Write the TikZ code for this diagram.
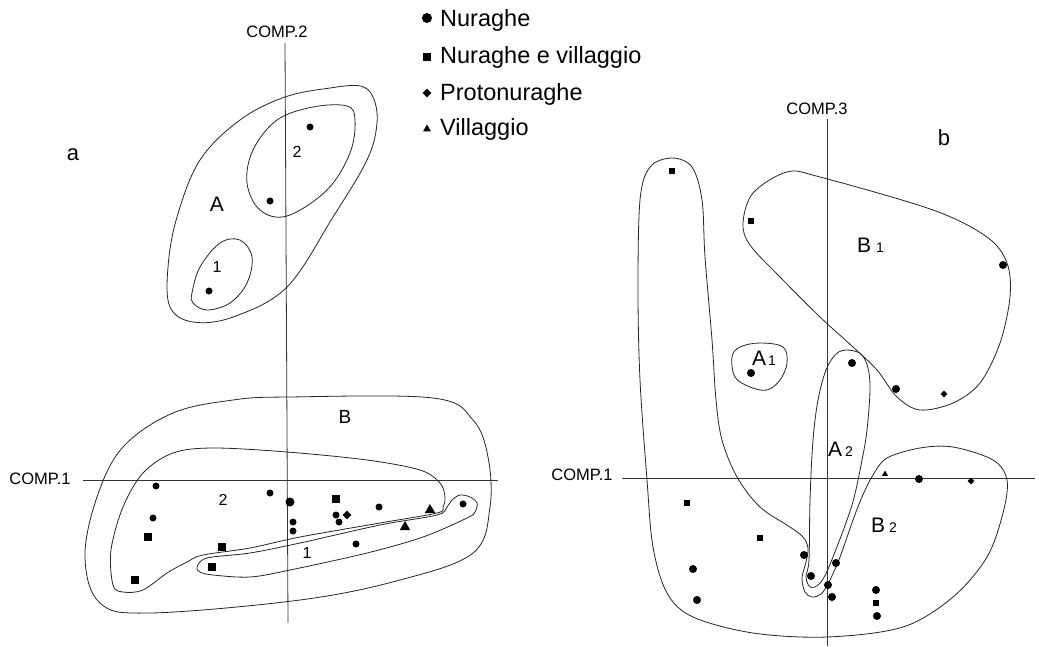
\documentclass[tikz,border=0pt]{standalone}
\usepackage{fontspec}
\setmainfont{Liberation Sans}
\usetikzlibrary{shapes.geometric}
\begin{document}
\begin{tikzpicture}[x=1pt,y=-1pt,
  curve/.style={draw=black!85,line width=0.8pt},
  axis/.style={draw=black!80,line width=0.8pt},
  dotm/.style={circle,fill=black,inner sep=0pt,minimum size=#1},
  dotm/.default=7pt,
  sqm/.style={rectangle,fill=black,inner sep=0pt,minimum size=#1},
  sqm/.default=8.5pt,
  diam/.style={diamond,fill=black,inner sep=0pt,minimum size=#1},
  diam/.default=9pt,
  trim/.style={regular polygon,regular polygon sides=3,fill=black,inner sep=0pt,minimum size=#1},
  trim/.default=12pt,
  num/.style={inner sep=0pt,font=\fontsize{16}{16}\selectfont},
  big/.style={inner sep=0pt,font=\fontsize{21}{21}\selectfont},
  comp/.style={inner sep=0pt,anchor=base,font=\fontsize{16.5}{16.5}\selectfont},
  leg/.style={inner sep=0pt,anchor=base west,font=\fontsize{23.5}{23.5}\selectfont}
]
\fill[white] (0,0) rectangle (1039,646);
\useasboundingbox (0,0) rectangle (1039,646);

% ---------------- legend ----------------
\node[dotm=10pt] (lg1) at (427,18) {};
\node[sqm=7.5pt] (lg2) at (427,57) {};
\node[diam=9pt] (lg3) at (427,93) {};
\node[trim=9pt] (lg4) at (427,129) {};
\node[leg] (lt1) at (440,26) {Nuraghe};
\node[leg] (lt2) at (440,63) {Nuraghe e villaggio};
\node[leg] (lt3) at (440,100) {Protonuraghe};
\node[leg] (lt4) at (440,135) {Villaggio};

% ---------------- panel a ----------------
\node[inner sep=0pt,font=\fontsize{22}{22}\selectfont] (la) at (73,155) {a};
\node[comp] (c2) at (277,37) {COMP.2};
\node[comp] (c1a) at (40,484) {COMP.1};
\coordinate (vat) at (285,43);
\coordinate (vab) at (288,623);
\coordinate (hal) at (83,480);
\coordinate (har) at (498,480);
\draw[axis] (vat) -- (vab);
\draw[axis] (hal) -- (har);

% group A
\draw[curve] plot[smooth cycle,tension=0.6] coordinates {(285,97) (330,88) (360,86) (373,97) (377,123) (367,160) (333,217) (287,287) (233,317) (193,322) (170,307) (168,267) (177,217) (200,160) (240,120)};
\draw[curve] plot[smooth cycle,tension=0.6] coordinates {(247,183) (253,150) (277,120) (313,107) (347,106) (355,120) (350,153) (327,190) (287,216) (260,210)};
\draw[curve] plot[smooth cycle,tension=0.6] coordinates {(192,293) (200,267) (220,243) (240,240) (252,257) (247,283) (230,303) (207,310) (193,303)};
\node[big] (lA) at (217,204) {A};
\node[num] (lA2) at (297,152) {2};
\node[num] (lA1) at (217,267) {1};

% group B
\draw[curve] plot[smooth cycle,tension=0.6] coordinates {(288,397) (433,398) (473,420) (488,457) (490,507) (473,553) (400,580) (300,600) (150,613) (100,603) (85,557) (97,497) (123,447) (173,413) (233,400)};
\draw[curve] plot[smooth cycle,tension=0.55] coordinates {(113,585) (111,550) (123,507) (143,473) (173,453) (213,448) (287,452) (367,460) (420,470) (440,483) (445,497) (443,507) (437,513) (380,523) (300,537) (250,548) (203,555) (187,562) (167,573) (143,590) (123,592)};
\draw[curve] plot[smooth cycle,tension=0.55] coordinates {(197,567) (207,558) (250,553) (300,543) (380,525) (437,515) (447,507) (452,500) (460,495) (470,497) (477,503) (475,512) (467,518) (423,537) (367,553) (290,570) (250,577) (213,575) (200,572)};
\node[big,font=\fontsize{19}{19}\selectfont] (lB) at (345,417) {B};
\node[num] (lB2) at (223,500) {2};
\node[num] (lB1) at (307,553) {1};

% points panel a
\foreach \x/\y [count=\i] in {156/486,270/493,379/507,463/504,153/518,293/522,293/531,336/515,339/522,356/544,310/127,270/201,209/291}
  \node[dotm] (ac\i) at (\x,\y) {};
\node[dotm=9pt] (acb) at (290,502) {};
\foreach \x/\y [count=\i] in {336/499,148/537,222/547,212/567,135/580}
  \node[sqm] (as\i) at (\x,\y) {};
\node[diam] (ad1) at (347,515) {};
\foreach \x/\y [count=\i] in {430/510,405/527}
  \node[trim] (at\i) at (\x,\y) {};

% ---------------- panel b ----------------
\node[inner sep=0pt,font=\fontsize{22}{22}\selectfont] (lb) at (944,138) {b};
\node[comp] (c3) at (817,114) {COMP.3};
\node[comp] (c1b) at (582,480) {COMP.1};
\coordinate (vbt) at (827,119);
\coordinate (vbb) at (827,646);
\coordinate (hbl) at (622,478);
\coordinate (hbr) at (1035,478);
\draw[axis] (vbt) -- (vbb);
\draw[axis] (hbl) -- (hbr);

% big outer curve (finger + B2)
\draw[curve] plot[smooth cycle,tension=0.55] coordinates {(672,158) (692,167) (702,200) (705,257) (712,340) (716,400) (722,440) (737,477) (760,507) (790,527) (803,537) (808,548) (806,562) (802,578) (805,592) (812,597) (821,594) (829,582) (840,557) (853,520) (862,497) (873,475) (887,458) (920,448) (953,447) (993,460) (1007,480) (1003,513) (987,557) (953,597) (903,627) (827,637) (753,633) (693,617) (667,593) (653,547) (647,480) (640,380) (638,290) (640,200) (650,167)};
% A2 loop
\draw[curve] plot[smooth cycle,tension=0.55] coordinates {(847,350) (861,354) (868,368) (870,390) (867,430) (862,460) (852,505) (833,557) (823,579) (815,587) (809,586) (806,576) (809,560) (810,500) (813,440) (818,400) (826,370) (836,354)};
% B1
\draw[curve] plot[smooth cycle,tension=0.55] coordinates {(743,223) (753,193) (787,172) (820,177) (933,210) (987,237) (1007,263) (1010,297) (1000,343) (980,383) (953,403) (920,410) (897,397) (877,370) (853,347) (820,317) (780,277) (750,245)};
% A1
\draw[curve] plot[smooth cycle,tension=0.6] coordinates {(732,357) (740,347) (760,343) (783,347) (787,363) (780,380) (767,390) (750,387) (735,377)};

\node[inner sep=0pt,anchor=base west] (lA1b) at (752,365) {\fontsize{21}{21}\selectfont A\hspace{2pt}\fontsize{14}{14}\selectfont 1};
\node[inner sep=0pt,anchor=base west] (lA2b) at (828,456) {\fontsize{21}{21}\selectfont A\hspace{3pt}\fontsize{14}{14}\selectfont 2};
\node[inner sep=0pt,anchor=base west] (lB1b) at (857,252) {\fontsize{21}{21}\selectfont B\hspace{5pt}\fontsize{14}{14}\selectfont 1};
\node[inner sep=0pt,anchor=base west] (lB2b) at (871,532) {\fontsize{21}{21}\selectfont B\hspace{4pt}\fontsize{14}{14}\selectfont 2};

% points panel b
\foreach \x/\y [count=\i] in {1003/265,852/363,896/389,751/373,919/479,804/555,836/563,693/569,811/576,828/585,832/597,876/590,877/616,697/600}
  \node[dotm=8pt] (bc\i) at (\x,\y) {};
\foreach \x/\y [count=\i] in {672/171,751/221,687/503,760/538,876/603}
  \node[sqm=6pt] (bs\i) at (\x,\y) {};
\foreach \x/\y [count=\i] in {944/394,971/481}
  \node[diam=7pt] (bd\i) at (\x,\y) {};
\node[trim=7pt] (bt1) at (885,474) {};
\end{tikzpicture}
\end{document}
